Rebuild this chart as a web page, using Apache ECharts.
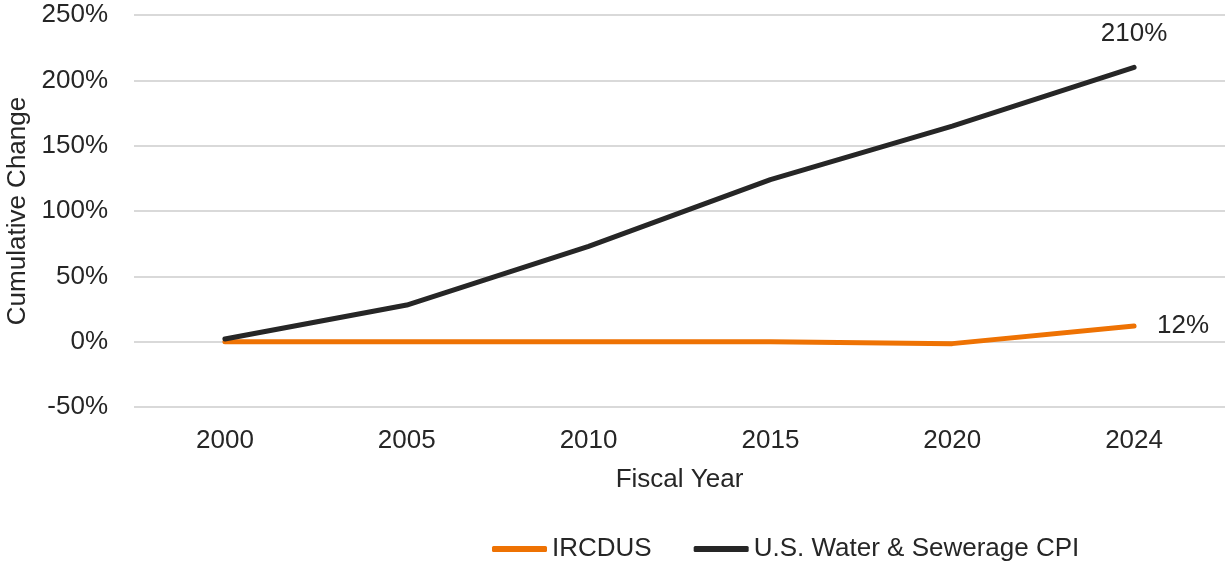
<!DOCTYPE html>
<html>
<head>
<meta charset="utf-8">
<script src="https://cdn.jsdelivr.net/npm/echarts@6/dist/echarts.min.js"></script>
<style>
  html, body { margin: 0; padding: 0; background: #fff; }
  #chart { width: 1225px; height: 564px; }
</style>
</head>
<body>
<div id="chart"></div>
<script>
// Fiscal years on the category axis
const years = ['2000', '2005', '2010', '2015', '2020', '2024'];
// Cumulative change since 2000, in percent
const ircdus = [0, 0, 0, 0, -1.5, 12];
const waterCpi = [2, 28, 73, 124, 165, 210];

const textColor = '#262626';
const font = 'Liberation Sans, Arial, sans-serif';
const fs = 26;

const chart = echarts.init(document.getElementById('chart'));

// Only the last point of each series carries a value label
function lastLabel(data, position, distance) {
  return data.map((v, i) => i === data.length - 1
    ? { value: v, label: { show: true, position: position, distance: distance,
        formatter: '{c}%', color: textColor, fontSize: fs, fontFamily: font } }
    : v);
}

chart.setOption({
  animation: false,
  textStyle: { fontFamily: font },
  grid: { left: 134, right: 0, top: 15, bottom: 157, outerBoundsMode: 'none', containLabel: false },
  legend: {
    top: 531,
    left: 487,
    itemWidth: 55,
    itemHeight: 6,
    itemGap: 42,
    icon: 'roundRect',
    textStyle: { color: textColor, fontSize: fs, fontFamily: font },
    data: ['IRCDUS', 'U.S. Water & Sewerage CPI']
  },
  xAxis: {
    type: 'category',
    data: years,
    boundaryGap: true,
    name: 'Fiscal Year',
    nameLocation: 'middle',
    nameGap: 60,
    nameTextStyle: { color: textColor, fontSize: fs, fontFamily: font },
    axisLine: { show: false },
    axisTick: { show: false },
    axisLabel: { color: textColor, fontSize: fs, fontFamily: font, margin: 21 }
  },
  yAxis: {
    type: 'value',
    min: -50,
    max: 250,
    interval: 50,
    name: 'Cumulative Change',
    nameLocation: 'middle',
    nameGap: 103,
    nameRotate: 90,
    nameTextStyle: { color: textColor, fontSize: fs, fontFamily: font },
    axisLine: { show: false },
    axisTick: { show: false },
    axisLabel: { color: textColor, fontSize: fs, fontFamily: font, margin: 26,
      formatter: '{value}%' },
    splitLine: { lineStyle: { color: '#d9d9d9', width: 2 } }
  },
  series: [
    {
      name: 'IRCDUS',
      type: 'line',
      data: lastLabel(ircdus, 'right', 23),
      symbol: 'circle',
      symbolSize: 0,
      showSymbol: true,
      lineStyle: { color: '#EE7203', width: 5, cap: 'round' },
      itemStyle: { color: '#EE7203' }
    },
    {
      name: 'U.S. Water & Sewerage CPI',
      type: 'line',
      data: lastLabel(waterCpi, 'top', 20),
      symbol: 'circle',
      symbolSize: 0,
      showSymbol: true,
      lineStyle: { color: '#262626', width: 5, cap: 'round' },
      itemStyle: { color: '#262626' }
    }
  ]
});
</script>
</body>
</html>
